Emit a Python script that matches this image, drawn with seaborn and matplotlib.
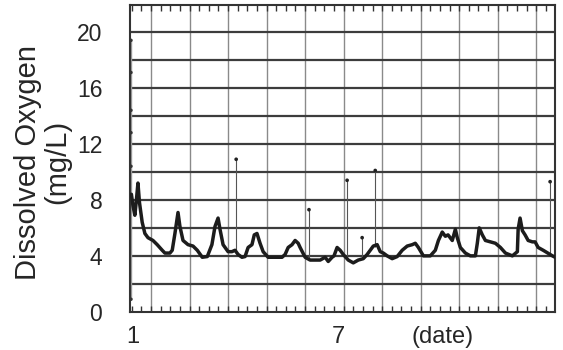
import numpy as np
import pandas as pd
import matplotlib
matplotlib.use("Agg")
import matplotlib.pyplot as plt
import matplotlib.transforms as mtransforms
import seaborn as sns

# --------------------------
# Data
# --------------------------
day = [1.49, 1.53, 1.58, 1.62, 1.66, 1.70, 1.77, 1.84, 1.92, 2.05,
       2.16, 2.29, 2.36, 2.49, 2.55, 2.62, 2.70, 2.75, 2.83, 2.96,
       3.09, 3.20, 3.33, 3.46, 3.58, 3.66, 3.74, 3.79, 3.87, 4.00,
       4.10, 4.18, 4.26, 4.36, 4.44, 4.52, 4.62, 4.68, 4.75, 4.83,
       4.91, 5.04, 5.22, 5.40, 5.48, 5.56, 5.66, 5.74, 5.82, 5.87,
       6.00, 6.13, 6.26, 6.39, 6.52, 6.60, 6.70, 6.75, 6.83, 6.91,
       6.99, 7.12, 7.25, 7.38, 7.51, 7.61, 7.69, 7.77, 7.87, 7.95,
       8.03, 8.13, 8.26, 8.39, 8.52, 8.65, 8.78, 8.86, 8.94, 9.07,
       9.20, 9.25, 9.38, 9.46, 9.56, 9.64, 9.71, 9.82, 9.90, 9.95,
       10.03, 10.16, 10.29, 10.42, 10.47, 10.52, 10.60, 10.68, 10.81, 10.94,
       11.07, 11.20, 11.38, 11.51, 11.53, 11.58, 11.64, 11.71, 11.79, 11.90,
       11.97, 12.05, 12.18, 12.30, 12.42, 12.49]
oxygen = [8.4, 7.6, 6.9, 8.0, 9.2, 7.8, 6.4, 5.6, 5.3, 5.1,
          4.8, 4.4, 4.2, 4.2, 4.4, 5.6, 7.1, 6.1, 5.1, 4.8,
          4.7, 4.4, 3.9, 3.95, 4.8, 6.1, 6.7, 5.9, 4.8, 4.3,
          4.3, 4.4, 4.1, 3.9, 3.95, 4.6, 4.8, 5.5, 5.6, 4.9,
          4.3, 3.9, 3.9, 3.9, 4.1, 4.6, 4.8, 5.1, 4.9, 4.6,
          3.9, 3.7, 3.7, 3.7, 3.9, 3.6, 3.9, 4.0, 4.6, 4.4,
          4.1, 3.7, 3.5, 3.7, 3.8, 4.1, 4.4, 4.7, 4.8, 4.3,
          4.2, 4.0, 3.8, 3.95, 4.4, 4.7, 4.8, 4.9, 4.6, 4.0,
          4.0, 4.0, 4.4, 5.1, 5.7, 5.4, 5.5, 5.1, 5.9, 5.3,
          4.6, 4.2, 4.0, 4.0, 4.9, 6.0, 5.5, 5.1, 5.0, 4.9,
          4.6, 4.2, 4.0, 4.3, 5.9, 6.7, 5.8, 5.5, 5.1, 5.0,
          5.0, 4.6, 4.4, 4.2, 4.0, 3.9]

# isolated sensor spikes
spike_day = [4.21, 6.10, 7.09, 7.48, 7.82, 12.36]
spike_base = [4.3, 3.8, 3.8, 3.8, 4.6, 4.2]
spike_top = [10.9, 7.3, 9.4, 5.3, 10.1, 9.3]

# calibration readings at the very start
start_day = 1.48
start_dots = [19.4, 17.1, 14.4, 12.8, 10.4, 0.9]

y_ticks = [0, 4, 8, 12, 16, 20]
x_labels = ["1", "7", "(date)"]
x_label_pos = [1.52, 6.86, 9.58]


def main():
    sns.set_style("white")
    plt.rcParams["font.family"] = ["Liberation Sans", "DejaVu Sans"]

    fig = plt.figure(figsize=(5.63, 3.5), dpi=100)
    ax = fig.add_axes([0.231, 0.109, 0.755, 0.877])

    # --------------------------
    # Grid
    # --------------------------
    ax.set_xlim(1.455, 12.49)
    ax.set_ylim(0, 21.93)
    for d in range(2, 13):
        ax.axvline(d, color="#8a8a8a", lw=1.0, zorder=0)
    for v in range(2, 21, 2):
        ax.axhline(v, color="#3c3c3c", lw=1.6, zorder=0)

    # --------------------------
    # Series
    # --------------------------
    df = pd.DataFrame({"day": day, "oxygen": oxygen})
    sns.lineplot(data=df, x="day", y="oxygen", ax=ax, color="#1c1c1c",
                 lw=2.5, sort=False, estimator=None, zorder=3)

    ax.vlines(spike_day, spike_base, spike_top, color="#555555", lw=0.8, zorder=2)
    sns.scatterplot(x=spike_day, y=spike_top, ax=ax, color="#222222", s=7,
                    edgecolor="none", zorder=3)

    ax.vlines(start_day, min(start_dots), max(start_dots), color="#9a9a9a",
              lw=1.0, zorder=2)
    sns.scatterplot(x=[start_day] * len(start_dots), y=start_dots, ax=ax,
                    color="#333333", s=6, edgecolor="none", zorder=3)

    # --------------------------
    # Axes styling
    # --------------------------
    ax.set_xlabel("")
    ax.set_ylabel("")
    ax.set_yticks(y_ticks)
    ax.set_yticklabels([str(t) for t in y_ticks], fontsize=16.5)
    ax.tick_params(axis="y", length=0, pad=20)
    ax.set_xticks(range(2, 13))
    ax.set_xticks(np.arange(1.5, 12.5, 0.25), minor=True)
    ax.tick_params(axis="x", which="both", direction="in", top=True,
                   bottom=True, labelbottom=False, length=4, width=1,
                   color="#333333")
    for s in ax.spines.values():
        s.set_color("#333333")
        s.set_linewidth(1.5)

    # x labels sit in data x, figure y
    trans = mtransforms.blended_transform_factory(ax.transData, fig.transFigure)
    for lab, pos in zip(x_labels, x_label_pos):
        ax.text(pos, 0.037, lab, fontsize=17, ha="center", va="center",
                transform=trans)

    fig.text(0.076, 0.537, "Dissolved Oxygen\n(mg/L)", rotation=90,
             fontsize=21, ha="center", va="center", multialignment="center",
             linespacing=1.05)

    fig.savefig("out.png", dpi=100, facecolor="white")
    plt.close(fig)


if __name__ == "__main__":
    main()
